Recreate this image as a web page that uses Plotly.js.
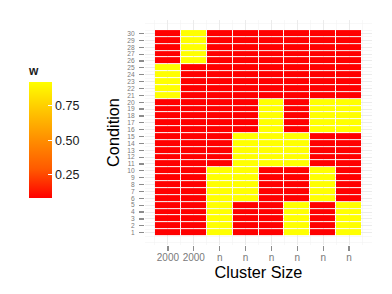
<!DOCTYPE html>
<html>
<head>
<meta charset="utf-8">
<script src="https://cdn.plot.ly/plotly-3.0.1.min.js"></script>
<style>html,body{margin:0;padding:0;background:#fff}#chart{width:392px;height:294px}</style>
</head>
<body>
<div id="chart"></div>
<script>
// Column labels (cluster size) and row labels (condition)
const xLabels = ["2000", "2000", "n", "n", "n", "n", "n", "n"];
const xPos = [1, 2, 3, 4, 5, 6, 7, 8];
const conditions = [];
for (let i = 1; i <= 30; i++) conditions.push(i);

// w values: one row per condition (1..30), one column per cluster size
const LO = 0.083, HI = 0.917;
const wRows1to5   = [LO, LO, HI, LO, LO, HI, LO, HI];
const wRows6to10  = [LO, LO, HI, HI, LO, LO, HI, LO];
const wRows11to15 = [LO, LO, LO, HI, HI, HI, LO, LO];
const wRows16to20 = [LO, LO, LO, LO, HI, LO, HI, HI];
const wRows21to25 = [HI, LO, LO, LO, LO, LO, LO, LO];
const wRows26to30 = [LO, HI, LO, LO, LO, LO, LO, LO];
const rowBlocks = [wRows1to5, wRows6to10, wRows11to15, wRows16to20, wRows21to25, wRows26to30];

const z = [];
for (let c = 1; c <= 30; c++) z.push(rowBlocks[Math.floor((c - 1) / 5)].slice());

const colorscale = [
  [0, '#ff0000'], [0.25, '#ff5a00'], [0.5, '#ff8e00'], [0.75, '#ffc500'], [1, '#ffff00']
];

const FONT = 'Liberation Sans, Arial, sans-serif';

const trace = {
  type: 'heatmap',
  x: xPos,
  y: conditions,
  z: z,
  colorscale: colorscale,
  xgap: 1,
  ygap: 1,
  hoverinfo: 'none',
  colorbar: {
    x: -0.511, xanchor: 'left', xpad: 0,
    y: 0.508, yanchor: 'middle', ypad: 0,
    len: 135, lenmode: 'pixels',
    thickness: 23, thicknessmode: 'pixels',
    outlinewidth: 0,
    tickvals: [0.25, 0.5, 0.75],
    ticktext: ['0.25', '0.50', '0.75'],
    ticks: 'inside', ticklen: 4, tickcolor: '#ffffff', tickwidth: 1,
    ticklabelstandoff: 2,
    tickfont: {family: FONT, size: 12.5, color: '#1a1a1a'},
    title: {text: '<b>w</b>', side: 'top', font: {family: FONT, size: 12, color: '#1a1a1a'}}
  }
};

const layout = {
  width: 392, height: 294,
  margin: {l: 145, r: 20, t: 20, b: 49},
  paper_bgcolor: '#ffffff',
  plot_bgcolor: '#ffffff',
  font: {family: FONT},
  xaxis: {
    range: [0.114, 8.886],
    tickmode: 'array', tickvals: xPos, ticktext: xLabels,
    ticks: 'outside', ticklen: 5, tickwidth: 1.2, tickcolor: '#8c8c8c',
    ticklabelstandoff: -2,
    tickfont: {size: 10, color: '#7a7a7a'},
    showgrid: true, gridcolor: '#ebebeb', gridwidth: 1,
    minor: {tick0: 0.5, dtick: 1, showgrid: true, gridcolor: '#f4f4f4', gridwidth: 0.6, ticks: ''},
    zeroline: false, showline: false,
    title: {text: 'Cluster Size', font: {size: 16.3, color: '#000000'}, standoff: 2}
  },
  yaxis: {
    range: [-0.8, 31.97],
    tickmode: 'array', tickvals: conditions, ticktext: conditions.map(String),
    ticks: 'outside', ticklen: 5, tickwidth: 1.2, tickcolor: '#8c8c8c',
    ticklabelstandoff: 3,
    tickfont: {size: 6.6, color: '#7a7a7a'},
    showgrid: true, gridcolor: '#ebebeb', gridwidth: 1,
    minor: {tick0: 0.5, dtick: 1, showgrid: true, gridcolor: '#f4f4f4', gridwidth: 0.6, ticks: ''},
    zeroline: false, showline: false,
    title: {text: 'Condition', font: {size: 16.3, color: '#000000'}, standoff: 3}
  }
};

Plotly.newPlot('chart', [trace], layout, {displayModeBar: false, staticPlot: true});
</script>
</body>
</html>
